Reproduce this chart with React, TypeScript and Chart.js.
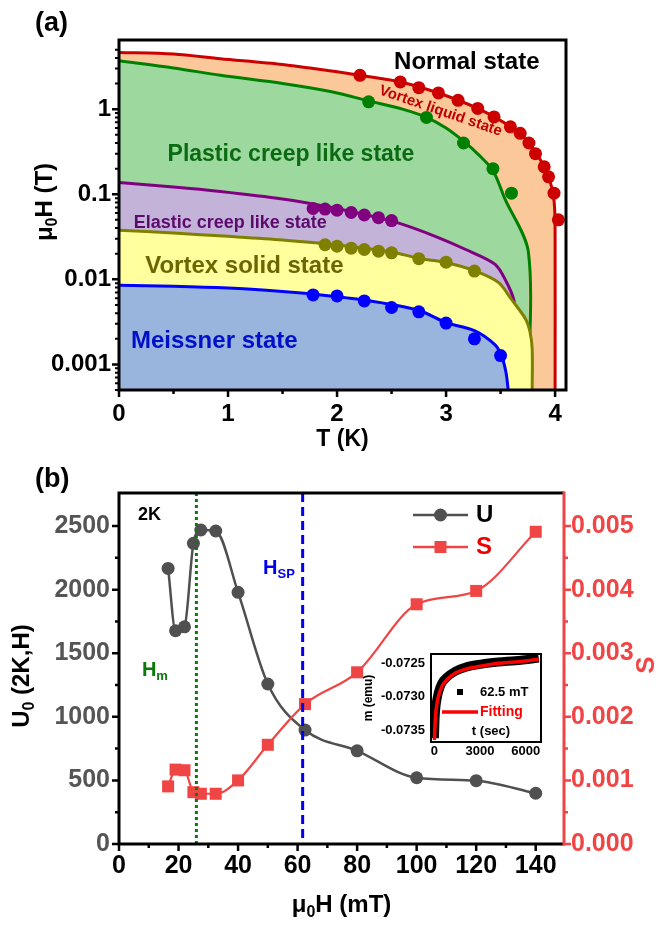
import React, { useEffect, useRef } from 'react';
import { Chart, registerables } from 'chart.js';
Chart.register(...registerables);

const FAMILY = "'Liberation Sans', Arial, Helvetica, sans-serif";
Chart.defaults.font.family = FAMILY;

// ---------------- Panel (a): H-T phase diagram ----------------
const T_TICKS = [0, 1, 2, 3, 4];
const H_TICKS = [0.001, 0.01, 0.1, 1];

const RED_LINE_T = [0, 0.5, 0.93, 1.5, 1.95, 2.21, 2.58, 2.93, 3.29, 3.59, 3.76, 3.9, 3.97, 3.995, 4.0, 4.0];
const RED_LINE_H = [4.65, 4.45, 3.92, 3.35, 2.81, 2.5, 2.09, 1.55, 1.02, 0.62, 0.4, 0.21, 0.12, 0.07, 0.03, 0.0005];
const RED_DOT_T = [2.21, 2.58, 2.75, 2.93, 3.11, 3.29, 3.44, 3.59, 3.68, 3.76, 3.82, 3.9, 3.94, 3.99, 4.03];
const RED_DOT_H = [2.5, 2.09, 1.79, 1.55, 1.27, 1.02, 0.81, 0.62, 0.52, 0.4, 0.3, 0.21, 0.16, 0.103, 0.05];

const GREEN_LINE_T = [0, 0.5, 0.93, 1.5, 1.95, 2.29, 2.6, 2.82, 3.0, 3.16, 3.3, 3.43, 3.54, 3.755, 3.757];
const GREEN_LINE_H = [3.7, 3.05, 2.5, 2.0, 1.6, 1.25, 1.0, 0.8, 0.6, 0.42, 0.29, 0.19, 0.088, 0.021, 0.0005];
const GREEN_DOT_T = [2.29, 2.82, 3.16, 3.43, 3.6];
const GREEN_DOT_H = [1.22, 0.8, 0.4, 0.2, 0.103];

const PURPLE_LINE_T = [0, 0.5, 0.93, 1.5, 1.95, 2.3, 2.56, 2.9, 3.18, 3.45, 3.55, 3.62, 3.65, 3.67];
const PURPLE_LINE_H = [0.137, 0.122, 0.108, 0.088, 0.07, 0.056, 0.046, 0.032, 0.0224, 0.015, 0.0095, 0.0058, 0.003, 0.0005];
const PURPLE_DOT_T = [1.78, 1.89, 2.0, 2.13, 2.25, 2.38, 2.5];
const PURPLE_DOT_H = [0.068, 0.067, 0.065, 0.061, 0.057, 0.053, 0.049];

const OLIVE_LINE_T = [0, 0.5, 1.0, 1.5, 1.95, 2.5, 2.75, 3.0, 3.27, 3.48, 3.6, 3.73, 3.77, 3.79, 3.79];
const OLIVE_LINE_H = [0.0377, 0.035, 0.032, 0.029, 0.0257, 0.021, 0.0176, 0.0158, 0.0125, 0.0092, 0.0058, 0.0034, 0.0024, 0.0015, 0.0005];
const OLIVE_DOT_T = [1.89, 2.0, 2.13, 2.25, 2.38, 2.5, 2.75, 3.0, 3.26];
const OLIVE_DOT_H = [0.0255, 0.0245, 0.0232, 0.0224, 0.0214, 0.0205, 0.0175, 0.0159, 0.0125];

const BLUE_LINE_T = [0, 0.5, 1.0, 1.5, 1.78, 2.25, 2.75, 3.0, 3.26, 3.45, 3.51, 3.55, 3.57];
const BLUE_LINE_H = [0.0085, 0.0083, 0.0079, 0.0072, 0.0067, 0.0057, 0.0043, 0.0031, 0.0025, 0.0017, 0.00125, 0.0008, 0.0005];
const BLUE_DOT_T = [1.78, 2.0, 2.25, 2.5, 2.75, 3.0, 3.26, 3.5];
const BLUE_DOT_H = [0.00655, 0.00638, 0.00557, 0.00466, 0.00415, 0.00306, 0.002, 0.00127];

// ---------------- Panel (b): U0 and S vs field ----------------
const FIELD_TICKS = [0, 20, 40, 60, 80, 100, 120, 140];
const U0_TICKS = [0, 500, 1000, 1500, 2000, 2500];
const S_TICKS = [0, 0.001, 0.002, 0.003, 0.004, 0.005];
const FIELD_MT = [16.5, 19, 22, 25, 27.5, 32.5, 40, 50, 62.5, 80, 100, 120, 140];
const U0_VALUES = [2167, 1677, 1708, 2364, 2469, 2461, 1979, 1258, 896, 733, 521, 498, 399];
const S_VALUES = [0.000906, 0.00117, 0.00116, 0.000815, 0.00079, 0.00079, 0.001, 0.00156, 0.0022, 0.0027, 0.00377, 0.00398, 0.00491];
const H_M = 26;
const H_SP = 61.7;

// ---------------- Inset: m(t) relaxation at 62.5 mT ----------------
const INSET_T_TICKS = [0, 3000, 6000];
const INSET_M_TICKS = [-0.0735, -0.073, -0.0725];
const INSET_T_SEC = [5, 46, 112, 263, 486, 814, 1360, 2016, 3112, 4200, 5300, 6500, 6850];
const INSET_M_DATA = [-0.07362, -0.07333, -0.07313, -0.07294, -0.0728, -0.07271, -0.07262, -0.07256, -0.07251, -0.07248, -0.07246, -0.07243, -0.07242];
const INSET_M_FIT = [-0.07365, -0.0734, -0.0732, -0.073, -0.07285, -0.07275, -0.07265, -0.07259, -0.07254, -0.0725, -0.07248, -0.07245, -0.07244];

const C = {
  red: '#cc0000', green: '#008000', purple: '#800080', olive: '#808000', blue: '#0000ff',
  fRed: '#fbc899', fGreen: '#9dd89e', fPurple: '#c3b3d9', fOlive: '#ffff9e', fBlue: '#99b4dd',
  gray: '#505050', sRed: '#f04545',
};

const zip = (xs: number[], ys: number[]) => xs.map((x, i) => ({ x, y: ys[i] }));
const fixTicks = (arr: number[]) => (s: any) => { s.ticks = arr.map((v) => ({ value: v })); };

type Part = { t: string; sub?: boolean };
function drawRich(ctx: CanvasRenderingContext2D, parts: Part[], x: number, y: number, size: number, color: string, align: 'left' | 'center' | 'right' = 'center', rot = 0) {
  ctx.save();
  ctx.translate(x, y);
  ctx.rotate(rot);
  ctx.fillStyle = color;
  ctx.textBaseline = 'middle';
  ctx.textAlign = 'left';
  const sub = Math.round(size * 0.65);
  let total = 0;
  for (const p of parts) {
    ctx.font = `bold ${p.sub ? sub : size}px ${FAMILY}`;
    total += ctx.measureText(p.t).width;
  }
  let cx = align === 'center' ? -total / 2 : align === 'right' ? -total : 0;
  for (const p of parts) {
    ctx.font = `bold ${p.sub ? sub : size}px ${FAMILY}`;
    ctx.fillText(p.t, cx, p.sub ? size * 0.32 : 0);
    cx += ctx.measureText(p.t).width;
  }
  ctx.restore();
}

function linearMinor(scale: any) {
  const majors = scale.ticks.map((t: any) => t.value);
  const out: number[] = [];
  if (majors.length < 2) return out;
  const step = majors[1] - majors[0];
  const cand = [majors[0] - step / 2, ...majors.map((v: number) => v + step / 2)];
  for (const v of cand) if (v >= scale.min && v <= scale.max) out.push(v);
  return out;
}

function marksBottom(ctx: CanvasRenderingContext2D, scale: any, vals: number[], edge: number, len: number, color: string, w: number) {
  ctx.save();
  ctx.strokeStyle = color; ctx.lineWidth = w;
  ctx.beginPath();
  for (const v of vals) { const p = scale.getPixelForValue(v); ctx.moveTo(p, edge); ctx.lineTo(p, edge + len); }
  ctx.stroke(); ctx.restore();
}
function marksSide(ctx: CanvasRenderingContext2D, scale: any, vals: number[], edge: number, len: number, dir: number, color: string, w: number, top: number) {
  ctx.save();
  ctx.strokeStyle = color; ctx.lineWidth = w;
  ctx.beginPath();
  for (const v of vals) {
    const p = scale.getPixelForValue(v);
    if (p < top + 3) continue;
    ctx.moveTo(edge, p); ctx.lineTo(edge + dir * len, p);
  }
  ctx.stroke(); ctx.restore();
}

const fmtPow10 = (v: number) => (v >= 1 ? String(Math.round(v)) : v.toFixed(-Math.round(Math.log10(v))));

function makePanelA(canvas: HTMLCanvasElement) {
  const line = (T: number[], H: number[], color: string, fillColor: string, order: number) => ({
    data: zip(T, H), borderColor: color, backgroundColor: fillColor, fill: 'start', borderWidth: 3,
    pointRadius: 0, tension: 0.3, order,
  });
  const dots = (T: number[], H: number[], color: string) => ({
    data: zip(T, H), showLine: false, pointRadius: 6.5, pointHoverRadius: 6.5, pointBackgroundColor: color,
    pointBorderWidth: 0, borderColor: color, backgroundColor: color, fill: false, order: 0,
  });
  const plugin = {
    id: 'panelA',
    afterDatasetsDraw(chart: any) {
      const { ctx, scales: { x, y } } = chart;
      const put = (text: string, T: number, H: number, size: number, color: string, rot = 0) => {
        drawRich(ctx, [{ t: text }], x.getPixelForValue(T), y.getPixelForValue(H), size, color, 'center', rot);
      };
      put('Normal state', 3.19, 3.55, 24, '#000');
      put('Vortex liquid state', 2.95, 0.95, 15, '#c00000', 19 * Math.PI / 180);
      put('Plastic creep like state', 1.577, 0.29, 23, '#0b6b12');
      put('Elastic creep like state', 1.02, 0.0464, 18, '#5c0a6c');
      put('Vortex solid state', 1.15, 0.0142, 24, '#6b6600');
      put('Meissner state', 0.874, 0.00188, 24, '#0010c8');
    },
    afterDraw(chart: any) {
      const { ctx, chartArea: a, scales: { x, y } } = chart;
      ctx.save();
      ctx.strokeStyle = '#000'; ctx.lineWidth = 3;
      ctx.strokeRect(a.left, a.top, a.right - a.left, a.bottom - a.top);
      ctx.restore();
      marksBottom(ctx, x, x.ticks.map((t: any) => t.value), a.bottom, 7, '#000', 2.5);
      marksBottom(ctx, x, linearMinor(x), a.bottom, 4, '#000', 2.5);
      const yMin: number[] = [];
      for (let d = -4; d <= 1; d++) for (let k = 2; k <= 9; k++) {
        const v = k * Math.pow(10, d);
        if (v >= y.min && v <= y.max) yMin.push(v);
      }
      marksSide(ctx, y, y.ticks.map((t: any) => t.value), a.left, 7, -1, '#000', 2.5, a.top);
      marksSide(ctx, y, yMin, a.left, 4, -1, '#000', 2, a.top);
      drawRich(ctx, [{ t: 'T (K)' }], (a.left + a.right) / 2, a.bottom + 50, 23, '#000');
      drawRich(ctx, [{ t: 'μ' }, { t: '0', sub: true }, { t: 'H (T)' }], 45, 202, 24, '#000', 'center', -Math.PI / 2);
      drawRich(ctx, [{ t: '(a)' }], 35, 24, 27, '#000', 'left');
    },
  };
  return new Chart(canvas, {
    type: 'line',
    data: {
      datasets: [
        line(RED_LINE_T, RED_LINE_H, C.red, C.fRed, 10),
        line(GREEN_LINE_T, GREEN_LINE_H, C.green, C.fGreen, 9),
        line(PURPLE_LINE_T, PURPLE_LINE_H, C.purple, C.fPurple, 8),
        line(OLIVE_LINE_T, OLIVE_LINE_H, C.olive, C.fOlive, 7),
        line(BLUE_LINE_T, BLUE_LINE_H, C.blue, C.fBlue, 6),
        dots(RED_DOT_T, RED_DOT_H, C.red),
        dots(GREEN_DOT_T, GREEN_DOT_H, C.green),
        dots(PURPLE_DOT_T, PURPLE_DOT_H, C.purple),
        dots(OLIVE_DOT_T, OLIVE_DOT_H, C.olive),
        dots(BLUE_DOT_T, BLUE_DOT_H, C.blue),
      ] as any,
    },
    options: {
      animation: false, responsive: false, maintainAspectRatio: false,
      layout: { padding: { top: 40, right: 96, bottom: 0, left: 0 } },
      plugins: { legend: { display: false }, tooltip: { enabled: false } },
      events: [],
      scales: {
        x: {
          type: 'linear', min: 0, max: 4.1,
          afterFit: (s: any) => { s.height = 70; },
          afterBuildTicks: fixTicks(T_TICKS),
          grid: { display: false, drawTicks: false }, border: { display: false },
          ticks: { padding: 10, color: '#000', autoSkip: false, maxRotation: 0,
            font: { size: 24, weight: 'bold' }, callback: (v: any) => String(v) },
        },
        y: {
          type: 'logarithmic', min: 0.0005, max: 6.5,
          afterFit: (s: any) => { s.width = 119; },
          afterBuildTicks: fixTicks(H_TICKS),
          grid: { display: false, drawTicks: false }, border: { display: false },
          ticks: { autoSkip: false, padding: 8, color: '#000', font: { size: 24, weight: 'bold' },
            callback: (v: any) => fmtPow10(Number(v)) },
        },
      } as any,
    },
    plugins: [plugin],
  } as any);
}

function makePanelB(canvas: HTMLCanvasElement) {
  const plugin = {
    id: 'panelB',
    afterDatasetsDraw(chart: any) {
      const { ctx, chartArea: a, scales: { x, y } } = chart;
      ctx.save();
      ctx.lineWidth = 3;
      ctx.strokeStyle = '#0a7a0a';
      ctx.setLineDash([3, 3]);
      const hm = x.getPixelForValue(H_M);
      ctx.beginPath(); ctx.moveTo(hm, a.top); ctx.lineTo(hm, a.bottom); ctx.stroke();
      ctx.strokeStyle = '#0000ee';
      ctx.setLineDash([9, 5]);
      const hs = x.getPixelForValue(H_SP);
      ctx.beginPath(); ctx.moveTo(hs, a.top); ctx.lineTo(hs, a.bottom); ctx.stroke();
      ctx.restore();
      const P = (h: number, u: number) => [x.getPixelForValue(h), y.getPixelForValue(u)];
      let [px, py] = P(6.4, 2590);
      drawRich(ctx, [{ t: '2K' }], px, py, 18, '#000', 'left');
      [px, py] = P(7.7, 1368);
      drawRich(ctx, [{ t: 'H' }, { t: 'm', sub: true }], px, py, 20, '#0a7a0a', 'left');
      [px, py] = P(48.4, 2170);
      drawRich(ctx, [{ t: 'H' }, { t: 'SP', sub: true }], px, py, 20, '#0000ee', 'left');
      // legend
      const lx = a.left + 294, lw = 55;
      const rows = [
        { name: 'U', color: C.gray, text: '#000', y: a.top + 22, shape: 'circle' },
        { name: 'S', color: C.sRed, text: '#ee0000', y: a.top + 54, shape: 'rect' },
      ];
      for (const r of rows) {
        ctx.save();
        ctx.strokeStyle = r.color; ctx.fillStyle = r.color; ctx.lineWidth = 2.5;
        ctx.beginPath(); ctx.moveTo(lx, r.y); ctx.lineTo(lx + lw, r.y); ctx.stroke();
        const cx = lx + lw / 2;
        if (r.shape === 'circle') { ctx.beginPath(); ctx.arc(cx, r.y, 6.5, 0, Math.PI * 2); ctx.fill(); }
        else ctx.fillRect(cx - 6, r.y - 6, 12, 12);
        ctx.restore();
        drawRich(ctx, [{ t: r.name }], lx + lw + 8, r.y, 24, r.text, 'left');
      }
    },
    afterDraw(chart: any) {
      const { ctx, chartArea: a, scales: { x, y, y2 } } = chart;
      ctx.save();
      ctx.lineWidth = 3; ctx.strokeStyle = '#000';
      ctx.beginPath();
      ctx.moveTo(a.right, a.top); ctx.lineTo(a.left, a.top); ctx.lineTo(a.left, a.bottom); ctx.lineTo(a.right, a.bottom);
      ctx.stroke();
      ctx.strokeStyle = C.sRed;
      ctx.beginPath(); ctx.moveTo(a.right, a.top - 1.5); ctx.lineTo(a.right, a.bottom + 1.5); ctx.stroke();
      ctx.restore();
      marksBottom(ctx, x, x.ticks.map((t: any) => t.value), a.bottom, 7, '#000', 2.5);
      marksBottom(ctx, x, linearMinor(x), a.bottom, 4, '#000', 2.5);
      marksSide(ctx, y, y.ticks.map((t: any) => t.value), a.left, 7, -1, '#000', 2.5, a.top);
      marksSide(ctx, y, linearMinor(y), a.left, 4, -1, '#000', 2.5, a.top);
      marksSide(ctx, y2, y2.ticks.map((t: any) => t.value), a.right, 7, 1, C.sRed, 2.5, a.top);
      marksSide(ctx, y2, linearMinor(y2), a.right, 4, 1, C.sRed, 2.5, a.top);
      drawRich(ctx, [{ t: 'μ' }, { t: '0', sub: true }, { t: 'H (mT)' }], (a.left + a.right) / 2, a.bottom + 61, 24, '#000');
      drawRich(ctx, [{ t: 'U' }, { t: '0', sub: true }, { t: ' (2K,H)' }], 22, 216, 24, '#000', 'center', -Math.PI / 2);
      drawRich(ctx, [{ t: 'S' }], 647, 205, 26, C.sRed, 'center', -Math.PI / 2);
      drawRich(ctx, [{ t: '(b)' }], 35, 20, 27, '#000', 'left');
    },
  };
  return new Chart(canvas, {
    type: 'line',
    data: {
      datasets: [
        {
          label: 'S', yAxisID: 'y2', data: zip(FIELD_MT, S_VALUES), borderColor: C.sRed, backgroundColor: C.sRed,
          borderWidth: 2.2, pointStyle: 'rect', pointRadius: 8.5, pointBorderWidth: 0, pointBackgroundColor: C.sRed,
          cubicInterpolationMode: 'monotone',
        },
        {
          label: 'U', yAxisID: 'y', data: zip(FIELD_MT, U0_VALUES), borderColor: C.gray, backgroundColor: C.gray,
          borderWidth: 2.5, pointRadius: 6.5, pointBorderWidth: 0, pointBackgroundColor: C.gray,
          cubicInterpolationMode: 'monotone',
        },
      ] as any,
    },
    options: {
      animation: false, responsive: false, maintainAspectRatio: false,
      layout: { padding: { top: 33, right: 0, bottom: 0, left: 0 } },
      plugins: { legend: { display: false }, tooltip: { enabled: false } },
      events: [],
      scales: {
        x: {
          type: 'linear', min: 0, max: 149.5,
          afterFit: (s: any) => { s.height = 83; },
          afterBuildTicks: fixTicks(FIELD_TICKS),
          grid: { display: false, drawTicks: false }, border: { display: false },
          ticks: { padding: 7, color: '#000', autoSkip: false, maxRotation: 0,
            font: { size: 25, weight: 'bold' }, callback: (v: any) => String(v) },
        },
        y: {
          type: 'linear', position: 'left', min: 0, max: 2760,
          afterFit: (s: any) => { s.width = 119; },
          afterBuildTicks: fixTicks(U0_TICKS),
          grid: { display: false, drawTicks: false }, border: { display: false },
          ticks: { padding: 9, color: '#555555', autoSkip: false,
            font: { size: 25, weight: 'bold' }, callback: (v: any) => String(v) },
        },
        y2: {
          type: 'linear', position: 'right', min: 0, max: 0.00552,
          afterFit: (s: any) => { s.width = 98; },
          afterBuildTicks: fixTicks(S_TICKS),
          grid: { display: false, drawTicks: false }, border: { display: false },
          ticks: { padding: 7, color: C.sRed, autoSkip: false,
            font: { size: 25, weight: 'bold' }, callback: (v: any) => Number(v).toFixed(3) },
        },
      } as any,
    },
    plugins: [plugin],
  } as any);
}

function makeInset(canvas: HTMLCanvasElement) {
  const plugin = {
    id: 'inset',
    beforeDatasetsDraw(chart: any) {
      const { ctx, chartArea: a } = chart;
      ctx.save(); ctx.fillStyle = '#fff'; ctx.fillRect(a.left, a.top, a.right - a.left, a.bottom - a.top); ctx.restore();
    },
    afterDraw(chart: any) {
      const { ctx, chartArea: a } = chart;
      ctx.save();
      ctx.strokeStyle = '#000'; ctx.lineWidth = 2;
      ctx.strokeRect(a.left, a.top, a.right - a.left, a.bottom - a.top);
      ctx.fillStyle = '#000';
      ctx.fillRect(a.left + 26, a.top + 35, 6, 6);
      ctx.strokeStyle = '#ff0000'; ctx.lineWidth = 3.5;
      ctx.beginPath(); ctx.moveTo(a.left + 11, a.top + 58); ctx.lineTo(a.left + 47, a.top + 58); ctx.stroke();
      ctx.restore();
      drawRich(ctx, [{ t: '62.5 mT' }], a.left + 49, a.top + 38, 13, '#000', 'left');
      drawRich(ctx, [{ t: 'Fitting' }], a.left + 49, a.top + 58, 14, '#ff0000', 'left');
      drawRich(ctx, [{ t: 't (sec)' }], a.left + 60, a.top + 77, 13, '#000', 'center');
      drawRich(ctx, [{ t: 'm (emu)' }], 29, (a.top + a.bottom) / 2, 12, '#000', 'center', -Math.PI / 2);
    },
  };
  return new Chart(canvas, {
    type: 'line',
    data: {
      datasets: [
        { data: zip(INSET_T_SEC, INSET_M_FIT), borderColor: '#ff0000', borderWidth: 3.5, pointRadius: 0, cubicInterpolationMode: 'monotone', fill: false },
        { data: zip(INSET_T_SEC, INSET_M_DATA), borderColor: '#000', borderWidth: 9, pointRadius: 0, cubicInterpolationMode: 'monotone', fill: false },
      ] as any,
    },
    options: {
      animation: false, responsive: false, maintainAspectRatio: false,
      layout: { padding: { top: 14, right: 14, bottom: 0, left: 0 } },
      plugins: { legend: { display: false }, tooltip: { enabled: false } },
      events: [],
      scales: {
        x: {
          type: 'linear', min: -220, max: 7000,
          afterFit: (s: any) => { s.height = 18; },
          afterBuildTicks: fixTicks(INSET_T_TICKS),
          grid: { display: false, drawTicks: false }, border: { display: false },
          ticks: { padding: 2, color: '#000', autoSkip: false, maxRotation: 0,
            font: { size: 13, weight: 'bold' }, callback: (v: any) => String(v) },
        },
        y: {
          type: 'linear', min: -0.07368, max: -0.07236,
          afterFit: (s: any) => { s.width = 91; },
          afterBuildTicks: fixTicks(INSET_M_TICKS),
          grid: { display: false, drawTicks: false }, border: { display: false },
          ticks: { padding: 6, color: '#000', autoSkip: false,
            font: { size: 13, weight: 'bold' }, callback: (v: any) => Number(v).toFixed(4) },
        },
      } as any,
    },
    plugins: [plugin],
  } as any);
}

export default function App() {
  const refA = useRef<HTMLCanvasElement>(null);
  const refB = useRef<HTMLCanvasElement>(null);
  const refI = useRef<HTMLCanvasElement>(null);
  useEffect(() => {
    const charts = [makePanelA(refA.current!), makePanelB(refB.current!), makeInset(refI.current!)];
    return () => charts.forEach((c) => c.destroy());
  }, []);
  return (
    <div style={{ position: 'absolute', left: 0, top: 0, width: 662, height: 927, background: '#fff', overflow: 'hidden' }}>
      <canvas ref={refA} width={662} height={460} style={{ position: 'absolute', left: 0, top: 0 }} />
      <canvas ref={refB} width={662} height={467} style={{ position: 'absolute', left: 0, top: 460 }} />
      <canvas ref={refI} width={215} height={120} style={{ position: 'absolute', left: 340, top: 640 }} />
    </div>
  );
}
